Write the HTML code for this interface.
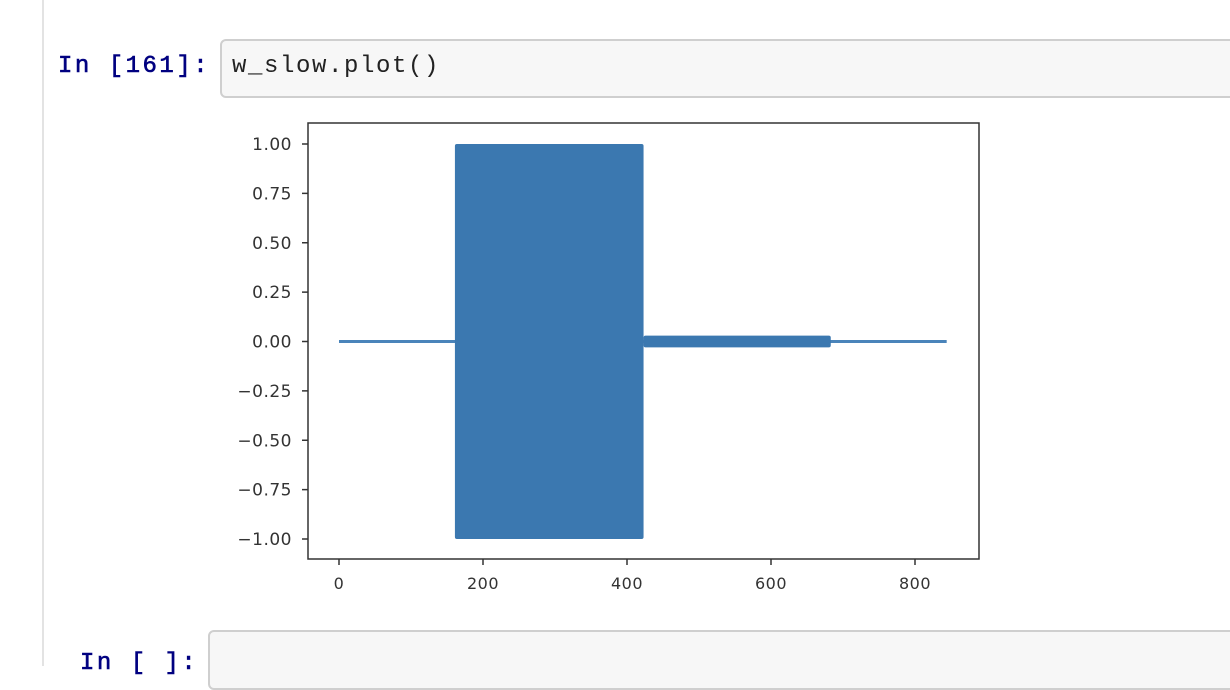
<!DOCTYPE html>
<html><head><meta charset="utf-8"><style>
body{margin:0;width:1230px;height:666px;overflow:hidden;background:#fff;position:relative;font-family:"Liberation Sans",sans-serif}
.abs{position:absolute}
.prompt{font-family:"Liberation Mono",monospace;font-size:24px;letter-spacing:2.5px;color:#000080;font-weight:normal;-webkit-text-stroke:0.6px #000080}
.cell{background:#f7f7f7;border:2px solid #cfcfcf;border-radius:6px;box-sizing:border-box}
</style></head><body>
<div class="abs" style="left:42px;top:0;width:2px;height:666px;background:#e3e3e3"></div>
<div class="abs prompt" style="left:58px;top:53px">In [161]:</div>
<div class="abs cell" style="left:220px;top:39px;width:1020px;height:59px"></div>
<div class="abs" style="left:232px;top:53px;font-family:'Liberation Mono',monospace;font-size:24px;letter-spacing:1.6px;color:#222">w_slow.plot()</div>
<div class="abs prompt" style="left:80px;top:650px">In [ ]:</div>
<div class="abs cell" style="left:208px;top:630px;width:1030px;height:60px"></div>
<svg class="abs" style="left:0;top:0" width="1230" height="666">
<g id="plot"></g>
</svg>
<script>
const xTicks=[0,200,400,600,800];
const yTicks=[1.00,0.75,0.50,0.25,0.00,-0.25,-0.50,-0.75,-1.00];
const baseLine=[0,844];
const bigBlock=[161,423,-1,1];
const smallBand=[423,683,-0.03,0.03];
const X=v=>339+v*0.72;
const Y=v=>341.5-v*197.5;
const g=document.getElementById('plot');
const NS='http://www.w3.org/2000/svg';
function mk(t,a){const e=document.createElementNS(NS,t);for(const k in a)e.setAttribute(k,a[k]);g.appendChild(e);return e;}
let e=mk('line',{x1:X(baseLine[0]),x2:X(baseLine[1]),y1:Y(0),y2:Y(0),stroke:'#4a84ba','stroke-width':3});


e=mk('rect',{x:X(bigBlock[0]),y:Y(bigBlock[3]),width:X(bigBlock[1])-X(bigBlock[0]),height:Y(bigBlock[2])-Y(bigBlock[3]),fill:'#3b78b0',rx:2});


e=mk('rect',{x:X(smallBand[0]),y:Y(smallBand[3]),width:X(smallBand[1])-X(smallBand[0]),height:Y(smallBand[2])-Y(smallBand[3]),fill:'#3b78b0',rx:2});


e=mk('rect',{x:308,y:123,width:671,height:436,fill:'none',stroke:'#333','stroke-width':1.5});


xTicks.forEach(v=>{
 mk('line',{x1:X(v),x2:X(v),y1:559,y2:565,stroke:'#333','stroke-width':1.5});
 const t=mk('text',{x:X(v),y:589,'text-anchor':'middle','font-family':'DejaVu Sans,sans-serif','font-size':16,'letter-spacing':0.5,fill:'#333'});
 t.textContent=String(v);
 
 
});
yTicks.forEach(v=>{
 mk('line',{x1:302,x2:308,y1:Y(v),y2:Y(v),stroke:'#333','stroke-width':1.5});
 const t=mk('text',{x:292,y:Y(v)+6,'text-anchor':'end','font-family':'DejaVu Sans,sans-serif','font-size':17,'letter-spacing':0.5,fill:'#333'});
 t.textContent=(v<0?'\u2212':'')+Math.abs(v).toFixed(2);
 
 
});
</script>
</body></html>
